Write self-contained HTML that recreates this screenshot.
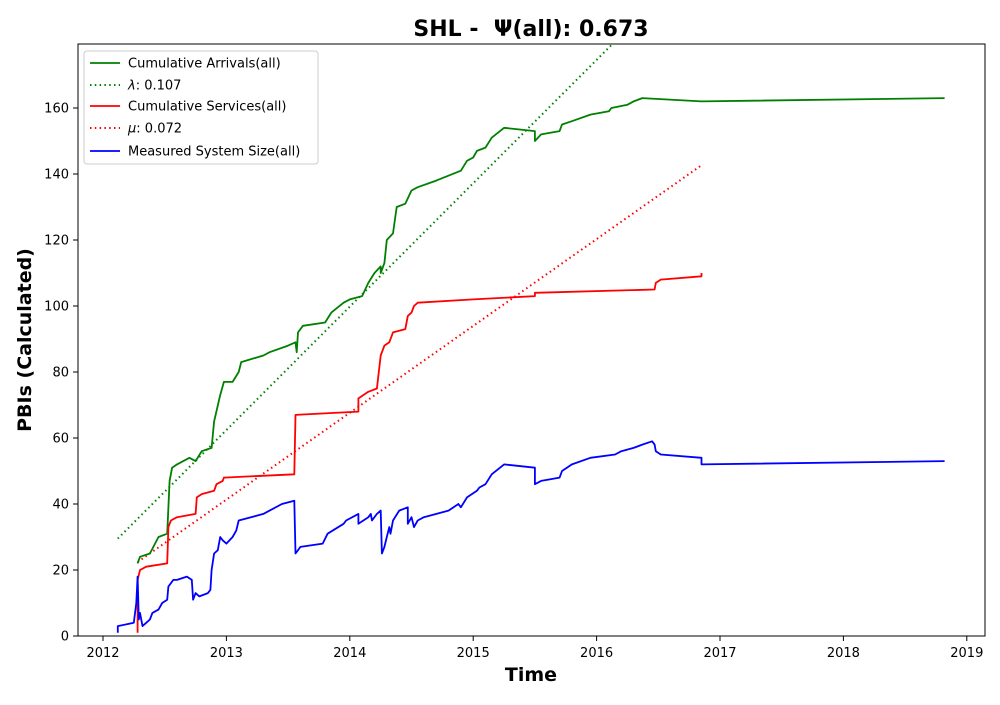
<!DOCTYPE html>
<html><head><meta charset="utf-8"><style>
body{margin:0;background:#fff;}
svg text{font-family:"DejaVu Sans","Liberation Sans",sans-serif;}
</style></head><body>
<svg id="chart" width="1000" height="700" viewBox="0 0 1000 700" xmlns="http://www.w3.org/2000/svg">
<defs><clipPath id="plotclip"><rect x="78" y="44" width="907" height="592"/></clipPath></defs>
<rect x="0" y="0" width="1000" height="700" fill="#fff"/>
<text x="531" y="36" text-anchor="middle" font-size="22" font-weight="bold" style="white-space:pre">SHL -  Ψ(all): 0.673</text>
<g id="series" clip-path="url(#plotclip)"></g>
<rect x="78" y="44" width="907" height="592" fill="none" stroke="#000" stroke-width="1"/>
<g id="axes"></g>
<text x="531" y="681" text-anchor="middle" font-size="19" font-weight="bold">Time</text>
<text transform="translate(31,340) rotate(-90)" text-anchor="middle" font-size="19" font-weight="bold">PBIs (Calculated)</text>
<g id="legend">
<rect x="84" y="51" width="234" height="113" rx="3" fill="#fff" fill-opacity="0.8" stroke="#ccc"/>
</g>
</svg>
<script>
const xTicks=[2012,2013,2014,2015,2016,2017,2018,2019];
const yTicks=[0,20,40,60,80,100,120,140,160];
const arrivalsT=[2012.28,2012.3,2012.38,2012.45,2012.52,2012.54,2012.56,2012.6,2012.7,2012.75,2012.8,2012.88,2012.9,2012.95,2012.98,2013.05,2013.1,2013.12,2013.3,2013.35,2013.5,2013.56,2013.57,2013.58,2013.62,2013.8,2013.85,2013.95,2014.0,2014.1,2014.15,2014.2,2014.25,2014.25,2014.28,2014.3,2014.35,2014.38,2014.45,2014.5,2014.55,2014.7,2014.9,2014.95,2015.0,2015.03,2015.1,2015.15,2015.25,2015.5,2015.5,2015.55,2015.7,2015.72,2015.8,2015.95,2016.1,2016.12,2016.25,2016.3,2016.37,2016.85,2018.82];
const arrivalsV=[22,24,25,30,31,47,51,52,54,53,56,57,65,73,77,77,80,83,85,86,88,89,86,92,94,95,98,101,102,103,107,110,112,110,113,120,122,130,131,135,136,138,141,144,145,147,148,151,154,153,150,152,153,155,156,158,159,160,161,162,163,162,163];
const servicesT=[2012.28,2012.28,2012.3,2012.35,2012.52,2012.53,2012.55,2012.6,2012.75,2012.76,2012.8,2012.9,2012.92,2012.97,2012.98,2013.55,2013.56,2014.07,2014.07,2014.15,2014.22,2014.25,2014.28,2014.32,2014.35,2014.45,2014.47,2014.5,2014.52,2014.55,2015.0,2015.5,2015.5,2016.47,2016.48,2016.52,2016.85,2016.85];
const servicesV=[1,17,20,21,22,33,35,36,37,42,43,44,46,47,48,49,67,68,72,74,75,85,88,89,92,93,97,98,100,101,102,103,104,105,107,108,109,110];
const sizeT=[2012.12,2012.12,2012.25,2012.27,2012.28,2012.29,2012.3,2012.32,2012.35,2012.38,2012.4,2012.45,2012.48,2012.52,2012.53,2012.55,2012.57,2012.6,2012.68,2012.72,2012.73,2012.75,2012.78,2012.85,2012.87,2012.88,2012.9,2012.93,2012.95,2012.97,2013.0,2013.05,2013.08,2013.1,2013.3,2013.35,2013.45,2013.55,2013.56,2013.58,2013.6,2013.78,2013.82,2013.95,2013.97,2014.07,2014.07,2014.15,2014.17,2014.18,2014.22,2014.25,2014.26,2014.28,2014.3,2014.32,2014.33,2014.35,2014.4,2014.47,2014.47,2014.5,2014.52,2014.55,2014.6,2014.8,2014.88,2014.9,2014.95,2015.03,2015.05,2015.1,2015.15,2015.25,2015.5,2015.5,2015.55,2015.7,2015.72,2015.8,2015.95,2016.15,2016.2,2016.3,2016.37,2016.45,2016.47,2016.48,2016.52,2016.85,2016.85,2018.82];
const sizeV=[1,3,4,10,18,5,7,3,4,5,7,8,10,11,15,16,17,17,18,17,11,13,12,13,14,20,25,26,30,29,28,30,32,35,37,38,40,41,25,26,27,28,31,34,35,37,34,36,37,35,37,38,25,27,30,33,31,35,38,39,34,36,33,35,36,38,40,39,42,44,45,46,49,52,51,46,47,48,50,52,54,55,56,57,58,59,58,56,55,54,52,53];
const lambdaT=[2012.12,2016.84];
const lambdaV=[29.5,206];
const muT=[2012.28,2016.84];
const muV=[22.4,142.4];

const NS="http://www.w3.org/2000/svg";
function X(t){return 103+(t-2012)*123.4;}
function Y(v){return 636-v*3.3;}
function mk(tag,attrs,parent){const e=document.createElementNS(NS,tag);for(const k in attrs)e.setAttribute(k,attrs[k]);parent.appendChild(e);return e;}
const axes=document.getElementById('axes'),series=document.getElementById('series'),legend=document.getElementById('legend');
xTicks.forEach(t=>{
 const l=mk('line',{x1:X(t),x2:X(t),y1:636,y2:641,stroke:'#000'},axes);
 
 
 const tx=mk('text',{x:X(t),y:657,'text-anchor':'middle','font-size':13},axes);tx.textContent=t;
 
 
});
yTicks.forEach(v=>{
 const l=mk('line',{x1:73,x2:78,y1:Y(v),y2:Y(v),stroke:'#000'},axes);
 
 
 const tx=mk('text',{x:69,y:Y(v)+4.5,'text-anchor':'end','font-size':13},axes);tx.textContent=v;
 
 
});
function line(ts,vs,color,dash,name){
 const d=ts.map((t,i)=>(i?'L':'M')+X(t).toFixed(1)+','+Y(vs[i]).toFixed(1)).join('');
 const p=mk('path',{d:d,fill:'none',stroke:color,'stroke-width':dash?2:1.8,'stroke-dasharray':dash?'1.5,3.3':'none','stroke-linejoin':'round'},series);
 
 
}
line(lambdaT,lambdaV,'green',true,'lambda-line');
line(muT,muV,'red',true,'mu-line');
line(arrivalsT,arrivalsV,'green',false,'cumulative-arrivals-line');
line(servicesT,servicesV,'red',false,'cumulative-services-line');
line(sizeT,sizeV,'blue',false,'system-size-line');
const items=[['','Cumulative Arrivals(all)'],['λ',': 0.107'],['','Cumulative Services(all)'],['μ',': 0.072'],['','Measured System Size(all)']];
const lc=['green','green','red','red','blue'],ld=[false,true,false,true,false],ly=[63,85,106,128,151];
items.forEach((s,i)=>{
 const l=mk('line',{x1:90,x2:120,y1:ly[i],y2:ly[i],stroke:lc[i],'stroke-width':ld[i]?2:1.8,'stroke-dasharray':ld[i]?'1.5,3.3':'none'},legend);
 
 
 const tx=mk('text',{x:128,y:ly[i]+4.5,'font-size':13},legend);
 if(s[0]){const sp=mk('tspan',{'font-style':'italic'},tx);sp.textContent=s[0];}
 tx.appendChild(document.createTextNode(s[1]));
 
 
});
</script>
</body></html>
